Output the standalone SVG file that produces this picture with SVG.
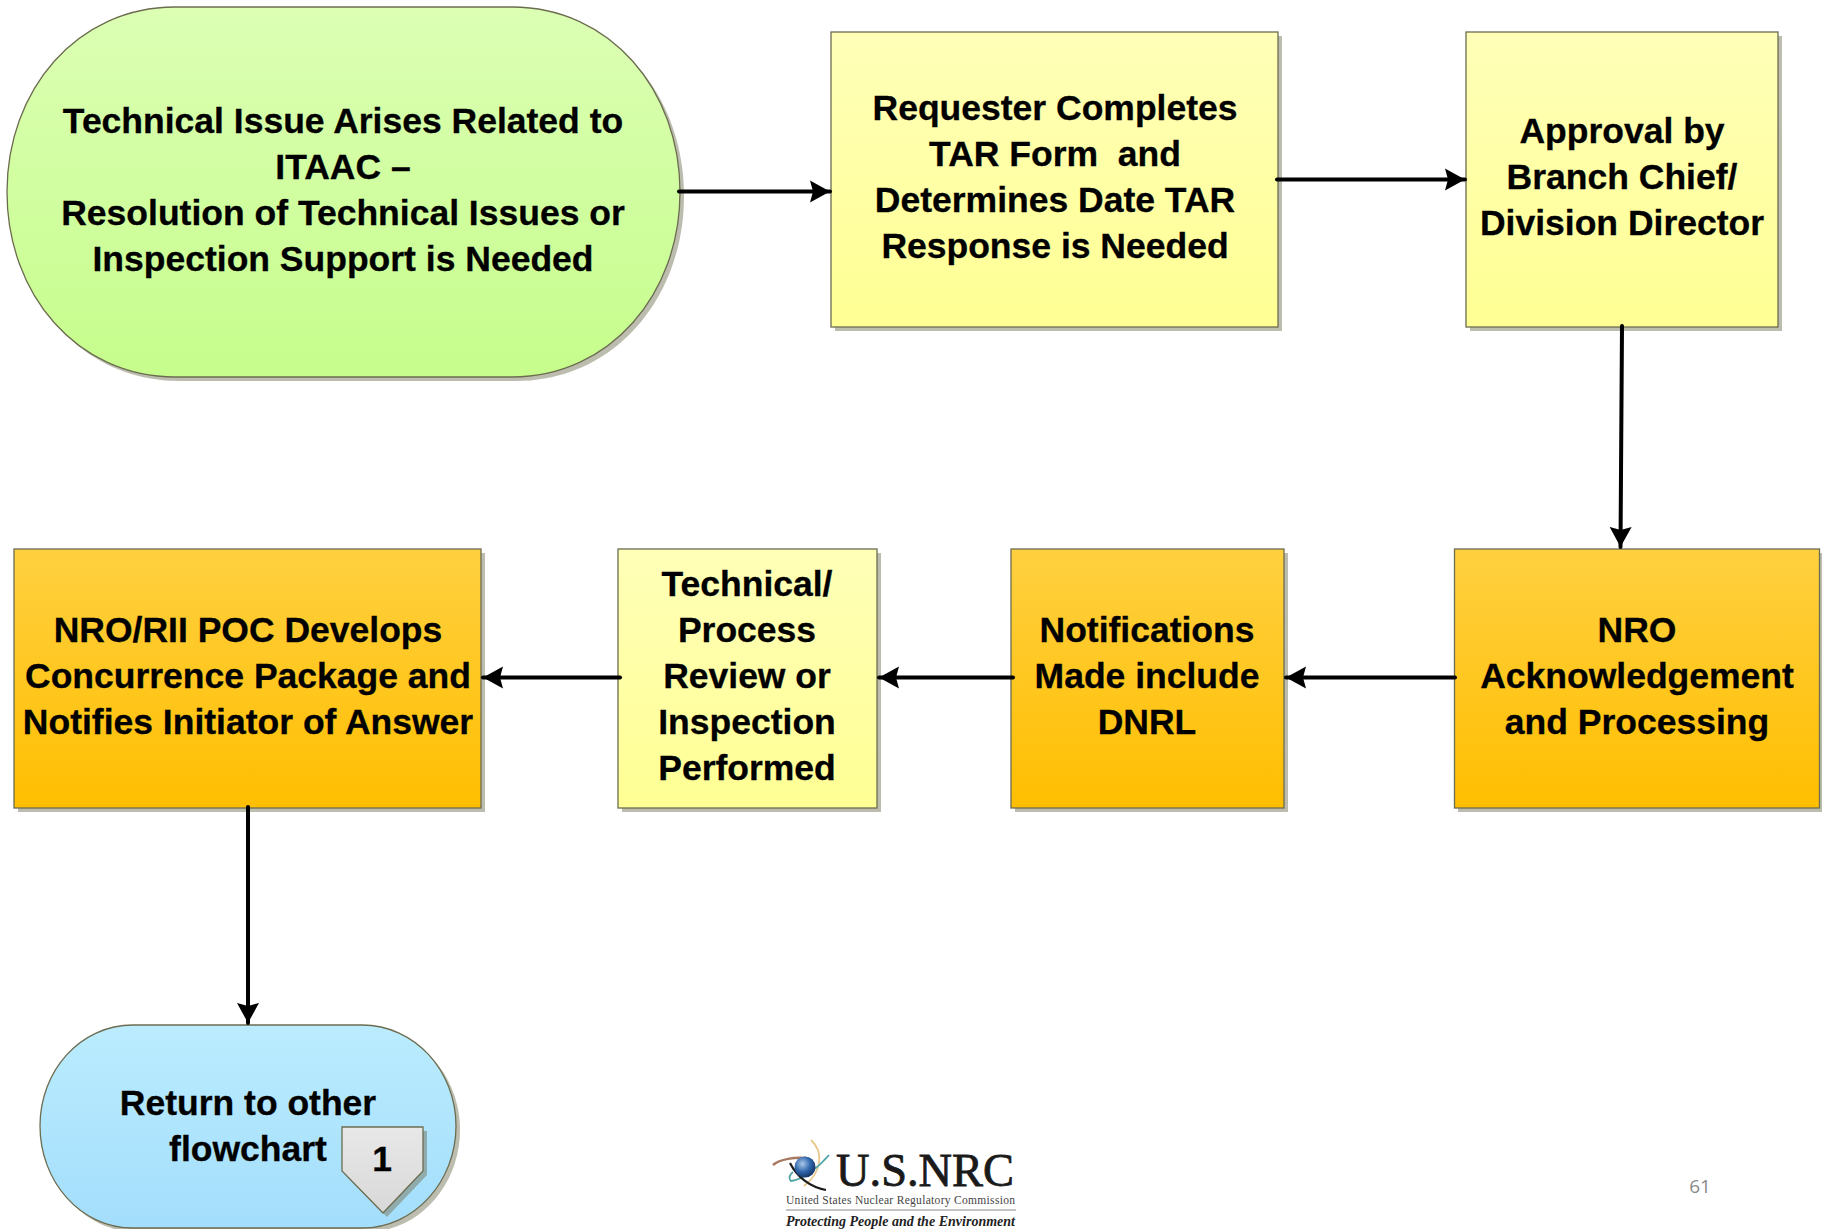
<svg xmlns="http://www.w3.org/2000/svg" width="1822" height="1229" viewBox="0 0 1822 1229">
<style>
.t{font-family:"Liberation Sans",Arial,sans-serif;font-weight:700;font-size:35.5px;fill:#000;stroke:#000;stroke-width:.3;text-anchor:middle;transform:translateY(-.8px)}
.s{fill:#bdbdaf}
.b{stroke:#6c6c50;stroke-width:1.3}
.c{fill:none;stroke:#000;stroke-width:4;stroke-linecap:round;marker-end:url(#a)}
.f{font-family:"Liberation Serif","Times New Roman",serif}
</style>
<defs>
<marker id="a" markerUnits="userSpaceOnUse" markerWidth="22" markerHeight="24" refX="20" refY="11.500" orient="auto"><path d="M0 0.500L20 11.500L0 22.500L3 11.500Z" fill="#000"/></marker>
<linearGradient id="g" x1="0" y1="0" x2="0" y2="1"><stop offset="0" stop-color="#dcffb4"/><stop offset="1" stop-color="#c6fd8c"/></linearGradient>
<linearGradient id="y" x1="0" y1="0" x2="0" y2="1"><stop offset="0" stop-color="#ffffb8"/><stop offset="1" stop-color="#ffff94"/></linearGradient>
<linearGradient id="o" x1="0" y1="0" x2="0" y2="1"><stop offset="0" stop-color="#ffd040"/><stop offset="1" stop-color="#ffbe00"/></linearGradient>
<linearGradient id="l" x1="0" y1="0" x2="0" y2="1"><stop offset="0" stop-color="#bbecfe"/><stop offset="1" stop-color="#a3defc"/></linearGradient>
<linearGradient id="h" x1="0" y1="0" x2="0" y2="1"><stop offset="0" stop-color="#e8e8e8"/><stop offset="1" stop-color="#d8d8d8"/></linearGradient>
<radialGradient id="e" cx=".38" cy=".35" r=".7"><stop offset="0" stop-color="#a9c8e8"/><stop offset=".55" stop-color="#2f66ac"/><stop offset="1" stop-color="#12305f"/></radialGradient>
</defs>
<rect width="1822" height="1229" fill="#fff"/>
<g id="n1"><path class="s" transform="translate(4 4)" d="M175 7H512C610 7 680 90 680 192S610 377 512 377H175C77 377 7 294 7 192S77 7 175 7Z"/><path class="b" fill="url(#g)" d="M175 7H512C610 7 680 90 680 192S610 377 512 377H175C77 377 7 294 7 192S77 7 175 7Z"/>
<text class="t" x="343" y="134">Technical Issue Arises Related to</text><text class="t" x="343" y="180">ITAAC –</text><text class="t" x="343" y="226">Resolution of Technical Issues or</text><text class="t" x="343" y="272">Inspection Support is Needed</text></g>
<g id="n2"><rect class="s" x="835" y="36" width="447" height="295"/><rect class="b" x="831" y="32" width="447" height="295" fill="url(#y)"/>
<text class="t" x="1055" y="121">Requester Completes</text><text class="t" x="1055" y="167" xml:space="preserve">TAR Form  and</text><text class="t" x="1055" y="213">Determines Date TAR</text><text class="t" x="1055" y="259">Response is Needed</text></g>
<g id="n3"><rect class="s" x="1470" y="36" width="312" height="295"/><rect class="b" x="1466" y="32" width="312" height="295" fill="url(#y)"/>
<text class="t" x="1622" y="144">Approval by</text><text class="t" x="1622" y="190">Branch Chief/</text><text class="t" x="1622" y="236">Division Director</text></g>
<g id="n4"><rect class="s" x="1458" y="553" width="365" height="259"/><rect class="b" x="1454.500" y="549" width="365" height="259" fill="url(#o)"/>
<text class="t" x="1637" y="643">NRO</text><text class="t" x="1637" y="689">Acknowledgement</text><text class="t" x="1637" y="735">and Processing</text></g>
<g id="n5"><rect class="s" x="1015" y="553" width="273" height="259"/><rect class="b" x="1011" y="549" width="273" height="259" fill="url(#o)"/>
<text class="t" x="1147" y="643">Notifications</text><text class="t" x="1147" y="689">Made include</text><text class="t" x="1147" y="735">DNRL</text></g>
<g id="n6"><rect class="s" x="622" y="553" width="259" height="259"/><rect class="b" x="618" y="549" width="259" height="259" fill="url(#y)"/>
<text class="t" x="747" y="597">Technical/</text><text class="t" x="747" y="643">Process</text><text class="t" x="747" y="689">Review or</text><text class="t" x="747" y="735">Inspection</text><text class="t" x="747" y="781">Performed</text></g>
<g id="n7"><rect class="s" x="18" y="553" width="467" height="259"/><rect class="b" x="14" y="549" width="467" height="259" fill="url(#o)"/>
<text class="t" x="248" y="643">NRO/RII POC Develops</text><text class="t" x="248" y="689">Concurrence Package and</text><text class="t" x="248" y="735">Notifies Initiator of Answer</text></g>
<g id="n8"><path class="s" transform="translate(4 4)" d="M133 1025H362C415 1025 456 1071 456 1126S415 1228 362 1228H133C80 1228 40 1181 40 1126S80 1025 133 1025Z"/><path class="b" fill="url(#l)" d="M133 1025H362C415 1025 456 1071 456 1126S415 1228 362 1228H133C80 1228 40 1181 40 1126S80 1025 133 1025Z"/>
<text class="t" x="248" y="1116">Return to other</text><text class="t" x="248" y="1162">flowchart</text></g>
<g id="n9"><path fill="#8fabab" d="M346 1131H427V1175L387 1217L346 1175Z"/><path class="b" fill="url(#h)" d="M342 1127H423V1171L383 1213L342 1171Z"/><text class="t" x="382" y="1172">1</text></g>
<g id="connectors">
<path class="c" d="M679 191.500H830"/>
<path class="c" d="M1277 179.500H1465"/>
<path class="c" d="M1622 326L1620.500 547"/>
<path class="c" d="M1455 677.500H1286"/>
<path class="c" d="M1013 677.500H879"/>
<path class="c" d="M620 677.500H483"/>
<path class="c" d="M248 807V1023"/>
</g>
<g id="logo" fill="none">
<path d="M773 1165C780 1159 795 1157 806 1158" stroke="#a87860" stroke-width="2.500"/>
<path d="M811 1140C824 1152 822 1172 804 1186" stroke="#e8c88a" stroke-width="1.800"/>
<path d="M829 1155C818 1168 802 1180 791 1181C788 1178 790 1174 793 1172" stroke="#4fa8a8" stroke-width="1.800"/>
<path d="M790 1163C797 1177 810 1187 826 1190" stroke="#1c1c1c" stroke-width="2.200"/>
<circle cx="805" cy="1167" r="10.500" fill="url(#e)"/>
<text class="f" x="836" y="1186" font-size="47" textLength="178" lengthAdjust="spacingAndGlyphs" stroke="#1a1a1a" stroke-width=".8" fill="#1a1a1a">U.S.NRC</text>
<text class="f" x="786" y="1204" font-size="11.500" textLength="229" lengthAdjust="spacing" fill="#444">United States Nuclear Regulatory Commission</text>
<path d="M786 1210H1016" stroke="#888"/>
<text class="f" x="786" y="1226" font-size="14" font-style="italic" font-weight="700" textLength="229" lengthAdjust="spacing" fill="#222">Protecting People and the Environment</text>
</g>
<text id="page" x="1700" y="1193" text-anchor="middle" font-family="'Open Sans',sans-serif" font-size="19" fill="#8a8a8a">61</text>
</svg>
